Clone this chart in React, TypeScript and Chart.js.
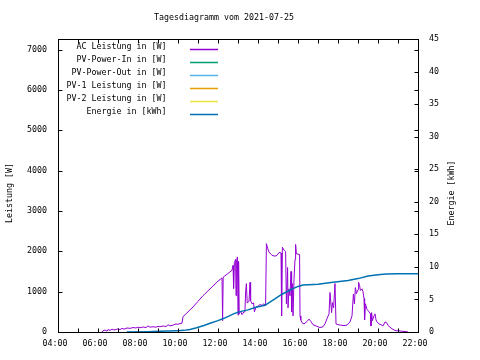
import { useEffect, useRef } from "react";
import { Chart, registerables } from "chart.js";

Chart.register(...registerables);

const TITLE = "Tagesdiagramm vom 2021-07-25";
const Y_LEFT_TITLE = "Leistung [W]";
const Y_RIGHT_TITLE = "Energie [kWh]";

const SERIES_LABELS = [
  "AC Leistung in [W]",
  "PV-Power-In in [W]",
  "PV-Power-Out in [W]",
  "PV-1 Leistung in [W]",
  "PV-2 Leistung in [W]",
  "Energie in [kWh]",
];
const SERIES_COLORS = ["#9400d3", "#009e73", "#56b4e9", "#e69f00", "#f0e442", "#0072b2"];

// axes
const X_MIN = 4;
const X_MAX = 22;
const X_LABEL_HOURS = [4, 6, 8, 10, 12, 14, 16, 18, 20, 22];
const Y_LEFT_MAX = 7264;
const Y_LEFT_TICKS = [0, 1000, 2000, 3000, 4000, 5000, 6000, 7000];
const Y_RIGHT_MAX = 45;
const Y_RIGHT_TICKS = [0, 5, 10, 15, 20, 25, 30, 35, 40, 45];

// AC Leistung [W]
const acTime = [
  6.2, 6.25, 6.35, 6.45, 6.5, 6.6, 6.7, 6.8, 6.9, 7.0, 7.1, 7.2, 7.3, 7.45, 7.6, 7.75, 7.9, 8.0, 8.1, 8.25,
  8.4, 8.5, 8.6, 8.75, 8.9, 9.0, 9.1, 9.25, 9.4, 9.5, 9.6, 9.75, 9.9, 10.0, 10.1, 10.2, 10.25, 10.5, 10.75, 11.0,
  11.25, 11.5, 11.75, 12.0, 12.2, 12.23, 12.26, 12.5, 12.7, 12.75, 12.78, 12.82, 12.88, 12.9, 12.93, 12.97, 13.0, 13.03, 13.06, 13.12,
  13.2, 13.3, 13.35, 13.38, 13.42, 13.46, 13.55, 13.6, 13.63, 13.7, 13.78, 13.82, 13.9, 14.0, 14.1, 14.2, 14.3, 14.38, 14.42, 14.48,
  14.55, 14.7, 14.85, 14.95, 15.05, 15.15, 15.18, 15.22, 15.3, 15.38, 15.42, 15.48, 15.5, 15.55, 15.6, 15.65, 15.68, 15.72, 15.75, 15.8,
  15.85, 15.88, 15.92, 16.0, 16.08, 16.1, 16.14, 16.2, 16.3, 16.45, 16.55, 16.65, 16.75, 16.9, 17.1, 17.25, 17.35, 17.45, 17.55, 17.6,
  17.68, 17.72, 17.78, 17.85, 17.9, 18.0, 18.3, 18.45, 18.6, 18.7, 18.77, 18.82, 18.87, 18.92, 19.0, 19.03, 19.08, 19.12, 19.2, 19.25,
  19.3, 19.33, 19.37, 19.45, 19.55, 19.62, 19.65, 19.68, 19.72, 19.8, 19.85, 19.9, 19.95, 20.05, 20.15, 20.25, 20.35, 20.45, 20.5, 20.6,
  20.7, 20.8, 20.9, 21.0, 21.2, 21.4, 21.5,
];
const acPower = [
  0, 30, 50, 20, 60, 40, 70, 50, 60, 80, 60, 90, 70, 100, 90, 110, 100, 120, 105, 125,
  110, 150, 120, 130, 120, 140, 130, 150, 135, 180, 150, 170, 200, 190, 210, 220, 380, 500, 620, 760,
  900, 1020, 1140, 1260, 1340, 280, 1360, 1450, 1530, 1650, 1080, 1720, 1800, 900, 1760, 1860, 420, 1750, 450, 520,
  430, 500, 560, 990, 1200, 720, 760, 1230, 780, 700, 720, 500, 620, 640, 680, 660, 700, 650, 2190, 2080,
  1980, 1900, 1880, 1900, 1970, 1960, 400, 2100, 2030, 1990, 700, 1600, 600, 1070, 900, 1500, 500, 1200, 400, 1300,
  1800, 2170, 1940, 1930, 1920, 400, 300, 230, 200, 260, 320, 260, 180, 150, 110, 130, 200, 330, 450, 980,
  480, 730, 600, 1200, 200, 180, 160, 170, 250, 400, 940, 700, 1100, 950, 1050, 1230, 1150, 1030, 1070, 1000,
  830, 300, 700, 560, 500, 450, 150, 480, 280, 400, 450, 300, 250, 200, 180, 150, 250, 220, 160, 120,
  80, 50, 30, 30, 20, 10, 0,
];

// Energie [kWh]
const energyTime = [
  7.43, 8.5, 9.0, 9.5, 10.0, 10.3, 10.6, 10.93, 11.3, 11.6, 12.0, 12.3, 12.75, 13.0, 13.5, 13.85, 14.35, 14.5, 14.9, 15.2,
  15.7, 16.0, 16.25, 17.0, 17.65, 18.5, 19.0, 19.5, 20.0, 20.4, 21.0, 22.0,
];
const energyKWh = [
  0, 0.05, 0.1, 0.15, 0.2, 0.25, 0.4, 0.65, 1.0, 1.35, 1.75, 2.1, 2.75, 3.05, 3.4, 3.75, 4.1, 4.4, 5.2, 5.8,
  6.6, 7.0, 7.2, 7.35, 7.6, 7.9, 8.2, 8.6, 8.8, 8.9, 8.95, 8.95,
];

const FONT_FAMILY = "'DejaVu Sans Mono', monospace";
const FONT_SIZE = 8.3;

const pts = (xs: number[], ys: number[]) => xs.map((x, i) => ({ x, y: ys[i] }));
const asTicks = (vals: number[]) => vals.map((value) => ({ value }));

const gnuplotPlugin = {
  id: "gnuplotFrame",
  afterDraw(chart: any) {
    const { ctx, chartArea } = chart;
    const xs = chart.scales.x;
    const yl = chart.scales.y;
    const yr = chart.scales.y2;
    const L = Math.round(chartArea.left) + 0.5;
    const R = Math.round(chartArea.right) + 0.5;
    const T = Math.round(chartArea.top) + 0.5;
    const B = Math.round(chartArea.bottom) + 0.5;
    const tl = 4;
    ctx.save();
    ctx.strokeStyle = "#000";
    ctx.lineWidth = 1;
    ctx.beginPath();
    // x ticks every hour, bottom and top (inward)
    for (let h = X_MIN; h <= X_MAX; h++) {
      const px = Math.round(xs.getPixelForValue(h)) + 0.5;
      ctx.moveTo(px, B);
      ctx.lineTo(px, B - tl);
      ctx.moveTo(px, T);
      ctx.lineTo(px, T + tl);
    }
    // left y ticks, mirrored on right
    yl.ticks.forEach((t: any) => {
      const py = Math.round(yl.getPixelForValue(t.value)) + 0.5;
      ctx.moveTo(L, py);
      ctx.lineTo(L + tl, py);
      ctx.moveTo(R, py);
      ctx.lineTo(R - tl, py);
    });
    // right y2 ticks
    yr.ticks.forEach((t: any) => {
      const py = Math.round(yr.getPixelForValue(t.value)) + 0.5;
      ctx.moveTo(R, py);
      ctx.lineTo(R - tl, py);
    });
    ctx.stroke();
    ctx.strokeRect(L, T, R - L, B - T);

    // key (legend), gnuplot style: right-aligned text, sample line after
    ctx.font = `${FONT_SIZE}px ${FONT_FAMILY}`;
    ctx.textAlign = "right";
    ctx.textBaseline = "middle";
    chart.data.datasets.forEach((ds: any, i: number) => {
      const rowY = 47 + 13 * i;
      ctx.fillStyle = "#000";
      ctx.fillText(ds.label, 166.5, rowY);
      ctx.strokeStyle = ds.borderColor;
      ctx.lineWidth = 1.5;
      ctx.beginPath();
      ctx.moveTo(190, rowY + 2.5);
      ctx.lineTo(218, rowY + 2.5);
      ctx.stroke();
    });

    // axis titles (both rotated to read bottom-to-top)
    ctx.fillStyle = "#000";
    ctx.textAlign = "center";
    ctx.textBaseline = "middle";
    const midY = 193;
    ctx.save();
    ctx.translate(10, midY);
    ctx.rotate(-Math.PI / 2);
    ctx.fillText(Y_LEFT_TITLE, 0, 0);
    ctx.restore();
    ctx.save();
    ctx.translate(452, midY);
    ctx.rotate(-Math.PI / 2);
    ctx.fillText(Y_RIGHT_TITLE, 0, 0);
    ctx.restore();
    ctx.restore();
  },
};

export default function App() {
  const ref = useRef<HTMLCanvasElement | null>(null);
  useEffect(() => {
    if (!ref.current) return;
    const font = { family: FONT_FAMILY, size: FONT_SIZE, weight: "normal" as const };
    const emptyTimes: number[] = [];
    const emptyValues: number[] = [];
    const chart = new Chart(ref.current, {
      type: "line",
      data: {
        datasets: [
          { label: SERIES_LABELS[0], data: pts(acTime, acPower), borderColor: SERIES_COLORS[0], borderWidth: 1, yAxisID: "y", order: 1 },
          { label: SERIES_LABELS[1], data: pts(emptyTimes, emptyValues), borderColor: SERIES_COLORS[1], borderWidth: 1, yAxisID: "y", order: 2 },
          { label: SERIES_LABELS[2], data: pts(emptyTimes, emptyValues), borderColor: SERIES_COLORS[2], borderWidth: 1, yAxisID: "y", order: 3 },
          { label: SERIES_LABELS[3], data: pts(emptyTimes, emptyValues), borderColor: SERIES_COLORS[3], borderWidth: 1, yAxisID: "y", order: 4 },
          { label: SERIES_LABELS[4], data: pts(emptyTimes, emptyValues), borderColor: SERIES_COLORS[4], borderWidth: 1, yAxisID: "y", order: 5 },
          { label: SERIES_LABELS[5], data: pts(energyTime, energyKWh), borderColor: SERIES_COLORS[5], borderWidth: 1.5, yAxisID: "y2", order: 0 },
        ],
      },
      options: {
        animation: false,
        responsive: false,
        devicePixelRatio: 1,
        layout: { padding: { left: 0, right: 32, top: 0, bottom: 0 } },
        elements: { point: { radius: 0 }, line: { tension: 0 } },
        plugins: {
          legend: { display: false },
          tooltip: { enabled: false },
          title: {
            display: true,
            text: TITLE,
            color: "#000",
            font,
            padding: { top: 13.3, bottom: 15.7 },
          },
        },
        scales: {
          x: {
            type: "linear",
            min: X_MIN,
            max: X_MAX,
            grid: { display: false, drawTicks: false },
            border: { display: false },
            afterBuildTicks: (s: any) => {
              s.ticks = asTicks(X_LABEL_HOURS);
            },
            ticks: {
              color: "#000",
              font,
              padding: 7,
              labelOffset: -3,
              maxRotation: 0,
              autoSkip: false,
              callback: (v: any) => `${String(v).padStart(2, "0")}:00`,
            },
            afterFit: (s: any) => {
              s.height = 28;
            },
          },
          y: {
            position: "left",
            min: 0,
            max: Y_LEFT_MAX,
            grid: { display: false, drawTicks: false },
            border: { display: false },
            afterBuildTicks: (s: any) => {
              s.ticks = asTicks(Y_LEFT_TICKS);
            },
            ticks: { color: "#000", font, padding: 11, autoSkip: false, callback: (v: any) => String(v) },
            afterFit: (s: any) => {
              s.width = 58;
            },
          },
          y2: {
            position: "right",
            min: 0,
            max: Y_RIGHT_MAX,
            grid: { display: false, drawTicks: false },
            border: { display: false },
            afterBuildTicks: (s: any) => {
              s.ticks = asTicks(Y_RIGHT_TICKS);
            },
            ticks: { color: "#000", font, padding: 11, autoSkip: false, callback: (v: any) => String(v) },
            afterFit: (s: any) => {
              s.width = 30;
            },
          },
        },
      } as any,
      plugins: [gnuplotPlugin],
    });
    return () => chart.destroy();
  }, []);
  return (
    <div style={{ position: "fixed", left: 0, top: 0, width: 480, height: 360, background: "#fff" }}>
      <canvas ref={ref} width={480} height={360} style={{ display: "block" }} />
    </div>
  );
}
